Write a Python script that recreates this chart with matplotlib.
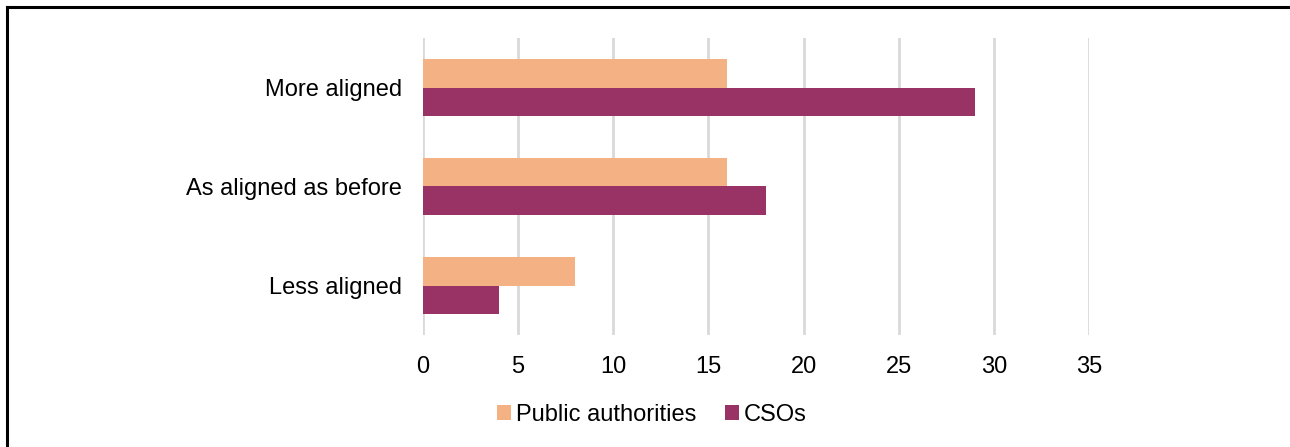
import numpy as np
import matplotlib.pyplot as plt
from matplotlib.lines import Line2D

categories = ['Less aligned', 'As aligned as before', 'More aligned']
public_authorities = [8, 16, 16]
csos = [4, 18, 29]
xticks = [0, 5, 10, 15, 20, 25, 30, 35]

plt.rcParams['font.family'] = ['Liberation Sans', 'DejaVu Sans']

fig = plt.figure(figsize=(12.9, 4.47), dpi=100)
ax = fig.add_axes([423/1290, 1-335/447, (1089-423)/1290, (335-38)/447])

y = np.arange(len(categories))
h = 0.285
ax.barh(y + h/2, public_authorities, height=h, color='#F4B183', label='Public authorities', zorder=3)
ax.barh(y - h/2, csos, height=h, color='#993366', label='CSOs', zorder=3)

ax.set_xlim(0, 35)
ax.set_ylim(-0.5, 2.5)
ax.set_xticks(xticks)
ax.set_yticks(y)
ax.set_yticklabels(categories)
ax.tick_params(axis='both', length=0, labelsize=17, colors='#000000')
ax.tick_params(axis='x', pad=15)
ax.tick_params(axis='y', pad=15)
ax.grid(axis='x', color='#D9D9D9', linewidth=2, zorder=0)
for s in ax.spines.values():
    s.set_visible(False)

fig.legend(loc='center', bbox_to_anchor=(652/1290, 1-415/447), ncol=2, frameon=False,
           fontsize=17, handlelength=0.6, handleheight=0.6, handletextpad=0.2, columnspacing=1.2,
           borderpad=0)

# chart border (left and top edges visible)
fig.add_artist(Line2D([7/1290, 7/1290], [0, 1-7/447], color='black', linewidth=2.2))
fig.add_artist(Line2D([7/1290, 1], [1-7/447, 1-7/447], color='black', linewidth=2.2))

fig.savefig('out.png', dpi=100)
